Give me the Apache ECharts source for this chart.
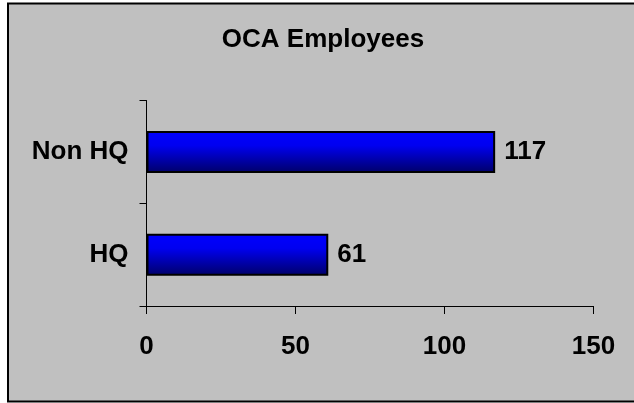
<!DOCTYPE html>
<html>
<head>
<meta charset="utf-8">
<style>
  html, body { margin: 0; padding: 0; background: #ffffff; }
  #chart { width: 634px; height: 403px; }
</style>
<script src="https://cdn.jsdelivr.net/npm/echarts@6/dist/echarts.min.js"></script>
</head>
<body>
<div id="chart"></div>
<script>
// Employee counts by location
const titleText = 'OCA Employees';
const categories = ['HQ', 'Non HQ'];
const employees = [61, 117];
const xTicks = { min: 0, max: 150, interval: 50 };

const FONT = "'Liberation Sans', Arial, sans-serif";

const chart = echarts.init(document.getElementById('chart'), null, { renderer: 'canvas' });

chart.setOption({
  backgroundColor: '#ffffff',
  animation: false,
  graphic: [{
    type: 'rect',
    z: -10,
    silent: true,
    shape: { x: 8, y: 3.5, width: 640, height: 398 },
    style: { fill: '#c0c0c0', stroke: '#000000', lineWidth: 2 }
  }],
  title: {
    text: titleText,
    left: 323,
    top: 27,
    textAlign: 'center',
    padding: 0,
    textStyle: { fontFamily: FONT, fontWeight: 'bold', fontSize: 26, color: '#000000' }
  },
  grid: { left: 146.5, right: 40.5, top: 100.5, bottom: 97, containLabel: false },
  xAxis: {
    type: 'value',
    min: xTicks.min,
    max: xTicks.max,
    interval: xTicks.interval,
    axisLine: { show: true, lineStyle: { color: '#000000', width: 1 } },
    axisTick: { show: true, length: 8, lineStyle: { color: '#000000', width: 1 } },
    splitLine: { show: false },
    axisLabel: { margin: 28, fontFamily: FONT, fontWeight: 'bold', fontSize: 26, color: '#000000' }
  },
  yAxis: {
    type: 'category',
    data: categories,
    axisLine: { show: true, lineStyle: { color: '#000000', width: 1 } },
    axisTick: { show: true, length: 7, alignWithLabel: false, lineStyle: { color: '#000000', width: 1 } },
    axisLabel: { margin: 18, fontFamily: FONT, fontWeight: 'bold', fontSize: 26, color: '#000000' }
  },
  series: [{
    type: 'bar',
    data: employees,
    barWidth: 42,
    itemStyle: {
      color: new echarts.graphic.LinearGradient(0, 0, 0, 1, [
        { offset: 0, color: '#0000ff' },
        { offset: 0.35, color: '#0000f0' },
        { offset: 1, color: '#000068' }
      ]),
      borderColor: '#000000',
      borderWidth: 2
    },
    label: {
      show: true,
      position: 'right',
      distance: 9,
      fontFamily: FONT,
      fontWeight: 'bold',
      fontSize: 26,
      color: '#000000'
    }
  }]
});
</script>
</body>
</html>
